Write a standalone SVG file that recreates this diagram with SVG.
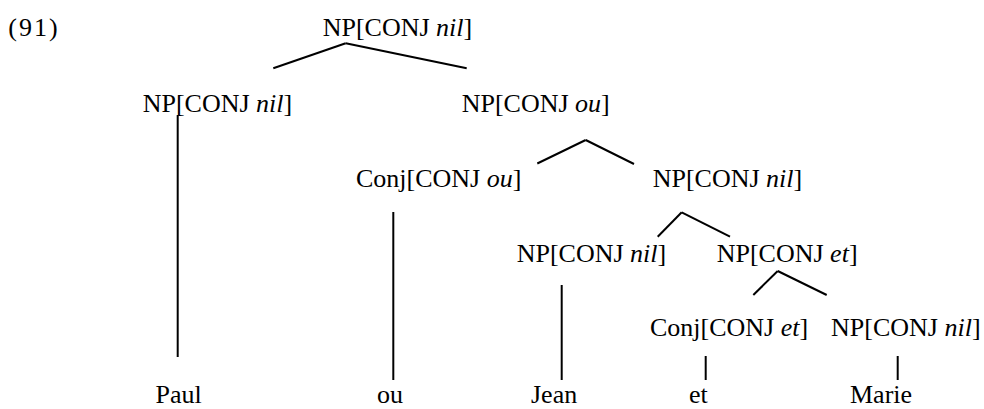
<svg xmlns="http://www.w3.org/2000/svg" width="984" height="409" viewBox="0 0 984 409">
<style>
text { font-family: 'Liberation Serif', 'Times New Roman', Tinos, 'DejaVu Serif', serif; font-size: 26px; fill: #000; }
.i { font-style: italic; }
#edges line { stroke: #000; stroke-width: 2; stroke-linecap: butt; }
</style>
<rect width="984" height="409" fill="#fff"/>
<g id="ex-label"><text x="8.3" y="36" font-size="28" letter-spacing="2">(91)</text></g>
<g id="edges">
<line x1="345.7" y1="43.3" x2="273.3" y2="68.3"/>
<line x1="345.7" y1="43.3" x2="466.7" y2="68.3"/>
<line x1="177.7" y1="115" x2="177.7" y2="357"/>
<line x1="585.7" y1="140" x2="537.3" y2="163.5"/>
<line x1="585.7" y1="140" x2="634" y2="164"/>
<line x1="393.3" y1="212" x2="393.3" y2="380"/>
<line x1="681.7" y1="212.3" x2="657.7" y2="236.7"/>
<line x1="681.7" y1="212.3" x2="730" y2="236.7"/>
<line x1="561.7" y1="285" x2="561.7" y2="380"/>
<line x1="777.7" y1="271" x2="753.3" y2="295"/>
<line x1="777.7" y1="271" x2="826.7" y2="295"/>
<line x1="705.7" y1="356" x2="705.7" y2="380"/>
<line x1="897.7" y1="356" x2="897.7" y2="380"/>
</g>
<g id="n-root"><text x="322.7" y="35.5">NP[CONJ <tspan class="i">nil</tspan>]</text></g>
<g id="n-np-paul"><text x="142.7" y="111.5">NP[CONJ <tspan class="i">nil</tspan>]</text></g>
<g id="n-np-ou"><text x="461.7" y="111.5">NP[CONJ <tspan class="i">ou</tspan>]</text></g>
<g id="n-conj-ou"><text x="356" y="186.5">Conj[CONJ <tspan class="i">ou</tspan>]</text></g>
<g id="n-np-nil2"><text x="652.7" y="186.5">NP[CONJ <tspan class="i">nil</tspan>]</text></g>
<g id="n-np-jean"><text x="516.7" y="261.5">NP[CONJ <tspan class="i">nil</tspan>]</text></g>
<g id="n-np-et"><text x="716.7" y="261.5">NP[CONJ <tspan class="i">et</tspan>]</text></g>
<g id="n-conj-et"><text x="650" y="336">Conj[CONJ <tspan class="i">et</tspan>]</text></g>
<g id="n-np-marie"><text x="831" y="336">NP[CONJ <tspan class="i">nil</tspan>]</text></g>
<g id="w-paul"><text x="155.5" y="403">Paul</text></g>
<g id="w-ou"><text x="377" y="403">ou</text></g>
<g id="w-jean"><text x="531" y="403">Jean</text></g>
<g id="w-et"><text x="689" y="403">et</text></g>
<g id="w-marie"><text x="850" y="403">Marie</text></g>
</svg>
